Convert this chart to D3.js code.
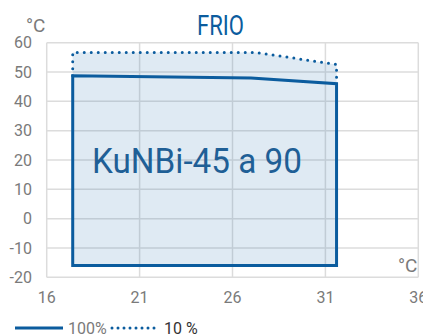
<!DOCTYPE html>
<html>
<head>
<meta charset="utf-8">
<script src="https://cdn.jsdelivr.net/npm/d3@7"></script>
<style>
  body { margin: 0; background: #fff; }
  text { font-family: Roboto, "Noto Sans", sans-serif; }
</style>
</head>
<body>
<div id="chart"></div>
<script>
// Operating range chart "FRIO" - cooling envelope for KuNBi-45 a 90

// x: ambient temperature, y: water temperature (°C)
const xTicks = [16, 21, 26, 31, 36];
const yTicks = [-20, -10, 0, 10, 20, 30, 40, 50, 60];

// 100% load envelope (closed polygon)
const fullX = [17.4, 17.4, 27, 31.6, 31.6, 17.4];
const fullY = [-16, 48.7, 48, 46, -16, -16];

// 10% load upper limit (dotted)
const partX = [17.4, 17.4, 27.2, 31.6, 31.6];
const partY = [48.7, 56.7, 56.7, 52.6, 46];

// shaded area: bottom of envelope up to the 10% limit
const areaX = [17.4, 17.4, 27.2, 31.6, 31.6];
const areaY = [-16, 56.7, 56.7, 52.6, -16];

const W = 423, H = 336;
const blue = "#0b5c9e";
const grey = "#7a7a7a";

const svg = d3.select("#chart").append("svg")
  .attr("width", W)
  .attr("height", H);

const x = d3.scaleLinear().domain([16, 36]).range([46.7, 418.3]);
const y = d3.scaleLinear().domain([-20, 60]).range([277.3, 42.7]);

// grid
svg.append("g")
  .selectAll("line.h")
  .data(yTicks)
  .join("line")
    .attr("x1", x(16)).attr("x2", x(36))
    .attr("y1", d => y(d)).attr("y2", d => y(d))
    .attr("stroke", "#dcdcdc")
    .attr("stroke-width", 1.5);

svg.append("g")
  .selectAll("line.v")
  .data(xTicks)
  .join("line")
    .attr("x1", d => x(d)).attr("x2", d => x(d))
    .attr("y1", y(-20)).attr("y2", y(60))
    .attr("stroke", "#dcdcdc")
    .attr("stroke-width", 1.5);

// tick labels
svg.append("g")
  .selectAll("text")
  .data(yTicks)
  .join("text")
    .attr("x", 32)
    .attr("y", d => y(d))
    .attr("dy", "0.36em")
    .attr("text-anchor", "end")
    .attr("fill", grey)
    .style("font-size", "16px")
    .text(d => d);

svg.append("g")
  .selectAll("text")
  .data(xTicks)
  .join("text")
    .attr("x", d => x(d))
    .attr("y", 303)
    .attr("text-anchor", "middle")
    .attr("fill", grey)
    .style("font-size", "16px")
    .text(d => d);

// units
svg.append("text")
  .attr("x", 26).attr("y", 32)
  .attr("fill", grey)
  .style("font-size", "19px")
  .text("°C");

svg.append("text")
  .attr("x", 398).attr("y", 272)
  .attr("fill", grey)
  .style("font-size", "19px")
  .text("°C");

// title
svg.append("text")
  .attr("x", 220.5).attr("y", 35)
  .attr("text-anchor", "middle")
  .attr("fill", blue)
  .attr("textLength", 47)
  .attr("lengthAdjust", "spacingAndGlyphs")
  .style("font-size", "27px")
  .text("FRIO");

const pts = (xs, ys) => xs.map((v, i) => [x(v), y(ys[i])]);
const line = d3.line();

// shaded area
svg.append("path")
  .attr("d", line(pts(areaX, areaY)) + "Z")
  .attr("fill", "#1f6aa8")
  .attr("fill-opacity", 0.14);

// 10% dotted limit
svg.append("path")
  .attr("d", line(pts(partX, partY)))
  .attr("fill", "none")
  .attr("stroke", blue)
  .attr("stroke-width", 3)
  .attr("stroke-linecap", "round")
  .attr("stroke-dasharray", "0 7");

// 100% envelope
svg.append("path")
  .attr("d", line(pts(fullX, fullY)) + "Z")
  .attr("fill", "none")
  .attr("stroke", blue)
  .attr("stroke-width", 3)
  .attr("stroke-linejoin", "miter");

// model label
svg.append("text")
  .attr("x", 197).attr("y", 173)
  .attr("text-anchor", "middle")
  .attr("fill", "#1f5f96")
  .attr("textLength", 210)
  .attr("lengthAdjust", "spacingAndGlyphs")
  .style("font-size", "35px")
  .text("KuNBi-45 a 90");

// legend
const lg = svg.append("g");
lg.append("line")
  .attr("x1", 15).attr("x2", 63)
  .attr("y1", 328).attr("y2", 328)
  .attr("stroke", blue).attr("stroke-width", 3);
lg.append("text")
  .attr("x", 68).attr("y", 334)
  .attr("fill", grey)
  .style("font-size", "16px")
  .text("100%");
lg.append("line")
  .attr("x1", 112).attr("x2", 160)
  .attr("y1", 328).attr("y2", 328)
  .attr("stroke", blue).attr("stroke-width", 3)
  .attr("stroke-linecap", "round")
  .attr("stroke-dasharray", "0 6");
lg.append("text")
  .attr("x", 164).attr("y", 334)
  .attr("fill", "#333")
  .style("font-size", "16px")
  .text("10 %");
</script>
</body>
</html>
